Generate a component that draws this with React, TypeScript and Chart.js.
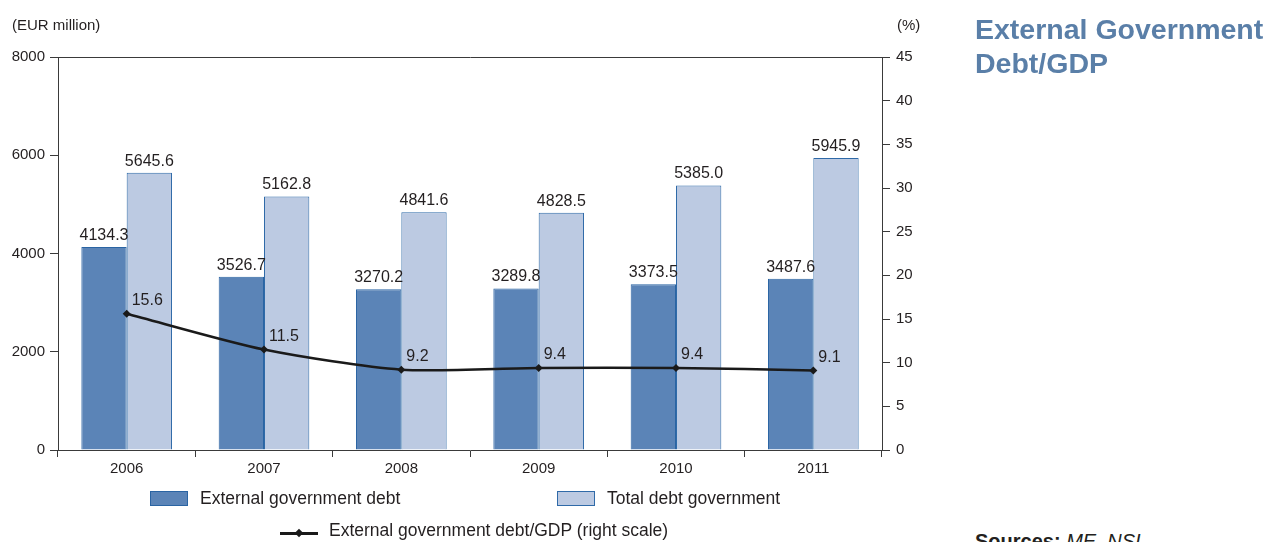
import React, { useEffect, useRef } from "react";
import { Chart, registerables } from "chart.js";

Chart.register(...registerables);

const years = ["2006", "2007", "2008", "2009", "2010", "2011"];
const externalDebt = [4134.3, 3526.7, 3270.2, 3289.8, 3373.5, 3487.6];
const totalDebt = [5645.6, 5162.8, 4841.6, 4828.5, 5385.0, 5945.9];
const debtToGdp = [15.6, 11.5, 9.2, 9.4, 9.4, 9.1];
const leftAxis = { min: 0, max: 8000, step: 2000 };
const rightAxis = { min: 0, max: 45, step: 5 };

const FONT = '"Liberation Sans", Arial, Helvetica, sans-serif';
const TEXT = "#231f20";
const AXIS = "#3a3a3a";
const DARK = "#5b84b7";
const DARK_BORDER = "#2a64a3";
const LIGHT = "#bccae2";
const LIGHT_BORDER = "#2f6aa8";
const TITLE = "#5a7fa8";

const valueLabels = {
  id: "valueLabels",
  afterDatasetsDraw(chart: any) {
    const ctx = chart.ctx;
    ctx.save();
    ctx.font = `16px ${FONT}`;
    ctx.fillStyle = TEXT;
    ctx.textBaseline = "alphabetic";
    chart.data.datasets.forEach((ds: any, di: number) => {
      const meta = chart.getDatasetMeta(di);
      meta.data.forEach((el: any, i: number) => {
        const v = Number(ds.data[i]).toFixed(1);
        if (ds.type === "line") {
          ctx.textAlign = "left";
          ctx.fillText(v, el.x + 5, el.y - 9);
        } else {
          ctx.textAlign = "center";
          ctx.fillText(v, el.x, el.y - 7);
        }
      });
    });
    ctx.restore();
  },
};

export default function App() {
  const ref = useRef<HTMLCanvasElement | null>(null);

  useEffect(() => {
    if (!ref.current) return;
    const tickFont = { family: FONT, size: 15 };
    const plain = (v: any) => String(v);
    const chart = new Chart(ref.current, {
      type: "bar",
      data: {
        labels: years,
        datasets: [
          {
            type: "line",
            label: "External government debt/GDP (right scale)",
            data: debtToGdp,
            yAxisID: "y1",
            borderColor: "#1a1a1a",
            backgroundColor: "#1a1a1a",
            borderWidth: 2.5,
            tension: 0.25,
            pointStyle: "rectRot",
            pointRadius: 4,
            pointBackgroundColor: "#1a1a1a",
            pointBorderWidth: 0,
            order: 0,
          } as any,
          {
            type: "bar",
            label: "External government debt",
            data: externalDebt,
            yAxisID: "y",
            backgroundColor: DARK,
            borderColor: DARK_BORDER,
            borderWidth: 1,
            categoryPercentage: 0.66,
            barPercentage: 1,
            order: 1,
          },
          {
            type: "bar",
            label: "Total debt government",
            data: totalDebt,
            yAxisID: "y",
            backgroundColor: LIGHT,
            borderColor: LIGHT_BORDER,
            borderWidth: 1,
            categoryPercentage: 0.66,
            barPercentage: 1,
            order: 2,
          },
        ],
      },
      options: {
        responsive: false,
        animation: false,
        layout: { padding: { top: 57, left: 0, right: 0, bottom: 0 } },
        plugins: {
          legend: { display: false },
          tooltip: { enabled: false },
        },
        scales: {
          x: {
            offset: true,
            grid: {
              offset: true,
              drawOnChartArea: false,
              drawTicks: true,
              tickLength: 7,
              color: AXIS,
              tickColor: AXIS,
            },
            border: { color: AXIS, width: 1 },
            ticks: { font: tickFont, color: TEXT, padding: 3 },
            afterFit: (s: any) => {
              s.height = 92;
            },
          },
          y: {
            position: "left",
            min: leftAxis.min,
            max: leftAxis.max,
            ticks: { stepSize: leftAxis.step, font: tickFont, color: TEXT, padding: 5, callback: plain },
            grid: {
              drawOnChartArea: true,
              drawTicks: true,
              tickLength: 8,
              tickColor: AXIS,
              color: (c: any) => (c.tick && c.tick.value === leftAxis.max ? AXIS : "rgba(0,0,0,0)"),
            },
            border: { color: AXIS, width: 1 },
            afterFit: (s: any) => {
              s.width = 58;
            },
          },
          y1: {
            position: "right",
            min: rightAxis.min,
            max: rightAxis.max,
            ticks: { stepSize: rightAxis.step, font: tickFont, color: TEXT, padding: 6, callback: plain },
            grid: {
              drawOnChartArea: false,
              drawTicks: true,
              tickLength: 8,
              color: AXIS,
              tickColor: AXIS,
            },
            border: { color: AXIS, width: 1 },
            afterFit: (s: any) => {
              s.width = 58;
            },
          },
        },
      },
      plugins: [valueLabels],
    });
    return () => chart.destroy();
  }, []);

  const txt: React.CSSProperties = {
    position: "absolute",
    fontFamily: FONT,
    color: TEXT,
    whiteSpace: "nowrap",
  };

  return (
    <div style={{ position: "absolute", left: 0, top: 0, width: 1268, height: 542, overflow: "hidden", background: "#fff" }}>
      <canvas ref={ref} width={940} height={542} style={{ position: "absolute", left: 0, top: 0, width: 940, height: 542 }} />
      <div style={{ ...txt, left: 12, top: 17, fontSize: 15, lineHeight: "15px" }}>(EUR million)</div>
      <div style={{ ...txt, left: 897, top: 17, fontSize: 15, lineHeight: "15px" }}>(%)</div>
      <div style={{ ...txt, left: 975, top: 12, fontSize: 28.5, lineHeight: "34px", fontWeight: "bold", color: TITLE, whiteSpace: "normal", width: 300 }}>
        External Government
        <br />
        Debt/GDP
      </div>
      <div style={{ ...txt, left: 975, top: 531, fontSize: 20, lineHeight: "20px" }}>
        <span style={{ fontWeight: "bold" }}>Sources:</span> <span style={{ fontStyle: "italic" }}>ME, NSI</span>
      </div>
      <div style={{ position: "absolute", left: 150, top: 491, width: 38, height: 15, boxSizing: "border-box", background: DARK, border: `1px solid ${DARK_BORDER}` }} />
      <div style={{ ...txt, left: 200, top: 490, fontSize: 17.5, lineHeight: "17.5px" }}>External government debt</div>
      <div style={{ position: "absolute", left: 557, top: 491, width: 38, height: 15, boxSizing: "border-box", background: LIGHT, border: `1px solid ${LIGHT_BORDER}` }} />
      <div style={{ ...txt, left: 607, top: 490, fontSize: 17.5, lineHeight: "17.5px" }}>Total debt government</div>
      <div style={{ position: "absolute", left: 280, top: 532, width: 38, height: 2.5, background: "#1a1a1a" }} />
      <div style={{ position: "absolute", left: 296, top: 530, width: 6, height: 6, background: "#1a1a1a", transform: "rotate(45deg)" }} />
      <div style={{ ...txt, left: 329, top: 522, fontSize: 17.5, lineHeight: "17.5px" }}>External government debt/GDP (right scale)</div>
    </div>
  );
}
